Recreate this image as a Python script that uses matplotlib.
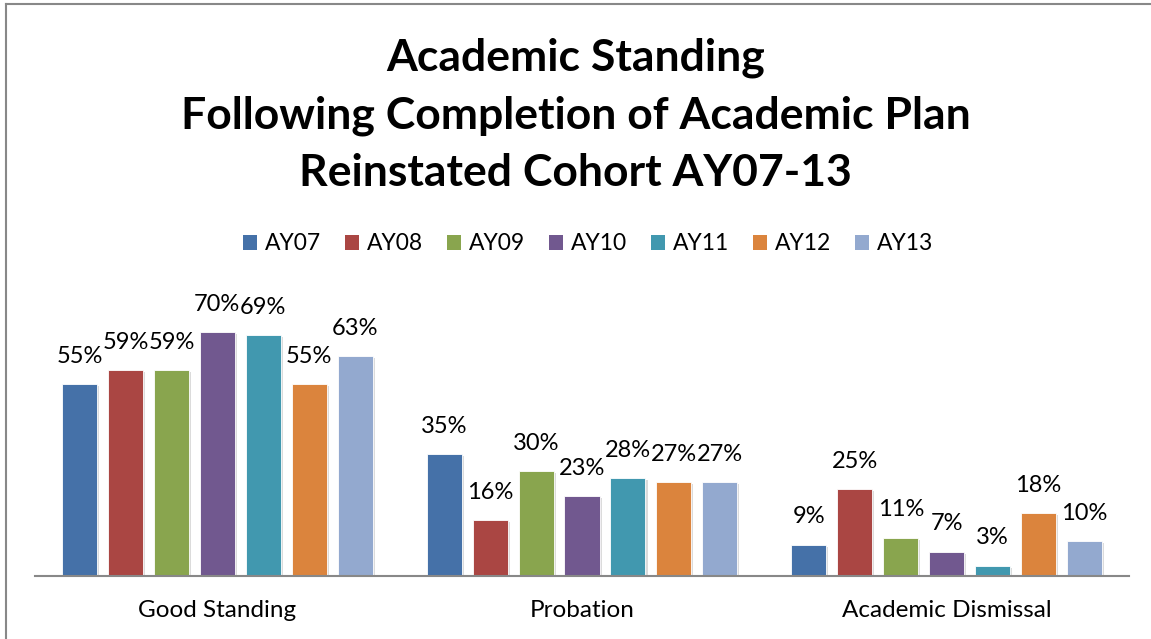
import matplotlib
matplotlib.use("Agg")
import matplotlib.pyplot as plt
import numpy as np
from matplotlib.patches import Patch
from matplotlib.lines import Line2D
import matplotlib.patheffects as pe

categories = ["Good Standing", "Probation", "Academic Dismissal"]
series_names = ["AY07", "AY08", "AY09", "AY10", "AY11", "AY12", "AY13"]
ay07 = [55, 35, 9]
ay08 = [59, 16, 25]
ay09 = [59, 30, 11]
ay10 = [70, 23, 7]
ay11 = [69, 28, 3]
ay12 = [55, 27, 18]
ay13 = [63, 27, 10]
series_values = [ay07, ay08, ay09, ay10, ay11, ay12, ay13]
colors = ["#4571A8", "#AA4643", "#89A54E", "#71588F", "#4198AF", "#DB843D", "#93A9CF"]

FONT = ["Lato", "DejaVu Sans"]
plt.rcParams['font.family'] = FONT

W, H = 1151, 639
fig = plt.figure(figsize=(W / 100, H / 100), dpi=100)
fig.patch.set_facecolor("white")

ax_left, ax_right = 35 / W, 1129 / W
ax_bottom = (H - 576) / H
ax_top_px = 297
ax = fig.add_axes([ax_left, ax_bottom, ax_right - ax_left, (576 - ax_top_px) / H])

x = np.arange(len(categories))
slot = 0.126
bw = 0.096
n = len(series_names)
shadow = [pe.SimplePatchShadow(offset=(1.5, -1.5), shadow_rgbFace="#999999", alpha=0.35), pe.Normal()]
for i, (name, vals, c) in enumerate(zip(series_names, series_values, colors)):
    pos = x + (i - (n - 1) / 2) * slot
    bars = ax.bar(pos, vals, width=bw, color=c, edgecolor="white", linewidth=0.6, label=name, zorder=3)
    for b in bars:
        b.set_path_effects(shadow)
    for p, v in zip(pos, vals):
        ax.annotate(f"{v}%", (p, v), xytext=(0, 20), textcoords="offset points",
                    ha="center", va="center", fontsize=17, color="black")

ax.set_xlim(-0.5, 2.5)
ax.set_ylim(0, 80)
ax.set_xticks(x)
ax.set_xticklabels(categories, fontsize=17.5)
ax.tick_params(axis="x", length=0, pad=17)
ax.set_yticks([])
for s in ["top", "right", "left"]:
    ax.spines[s].set_visible(False)
ax.spines["bottom"].set_color("#888888")
ax.spines["bottom"].set_linewidth(1.5)
ax.spines["bottom"].set_zorder(4)

fig.text(0.5, 1 - 58 / H, "Academic Standing", ha="center", va="center", fontsize=32, fontweight="bold")
fig.text(0.5, 1 - 116 / H, "Following Completion of Academic Plan", ha="center", va="center", fontsize=32, fontweight="bold")
fig.text(0.5, 1 - 173 / H, "Reinstated Cohort AY07-13", ha="center", va="center", fontsize=32, fontweight="bold")

handles = [Patch(facecolor=c, edgecolor="none") for c in colors]
fig.legend(handles, series_names, loc="center", bbox_to_anchor=(588 / W, 1 - 244 / H), ncol=7,
           frameon=False, fontsize=16.5, handlelength=0.6, handleheight=0.6, handletextpad=0.35,
           columnspacing=1.05)

fig.add_artist(Line2D([5.5 / W, 5.5 / W], [0, 1 - 3.5 / H], transform=fig.transFigure, color="#888888", lw=1.5))
fig.add_artist(Line2D([5.5 / W, 1], [1 - 3.5 / H, 1 - 3.5 / H], transform=fig.transFigure, color="#888888", lw=1.5))

fig.savefig("out.png", dpi=100, facecolor="white")
